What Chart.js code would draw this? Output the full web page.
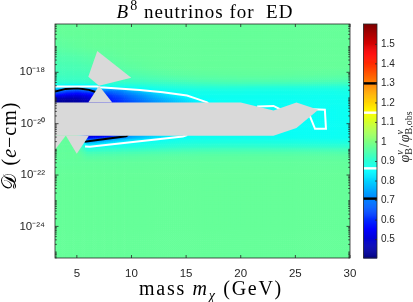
<!DOCTYPE html>
<html>
<head>
<meta charset="utf-8">
<script src="https://cdn.jsdelivr.net/npm/chart.js@4.4.1/dist/chart.umd.min.js"></script>
<style>
  html, body { margin: 0; padding: 0; background: #fff; }
</style>
</head>
<body>
<canvas id="chart" width="413" height="302"></canvas>
<script>
// grid of the ratio field (mass in GeV, log10 of D in e-cm)
var massGrid = [3, 4, 5, 6, 7, 8, 9, 10, 12, 14, 16, 18, 20, 22, 24, 26, 28, 30];
var logDGrid = [-16.0, -16.5, -17.0, -17.4, -17.8, -18.1, -18.3, -18.45, -18.6, -18.7, -18.8, -18.9, -19.0, -19.1, -19.2,
  -19.35, -19.5, -19.8, -20.1, -20.35, -20.5, -20.6, -20.7, -20.8, -20.9, -21.0, -21.1, -21.25, -21.5, -22.0, -23.0, -24.0, -25.0, -25.5];
var _ = null; // hidden under the grey band
var ratioRows = [
  [0.975, 0.975, 0.975, 0.975, 0.975, 0.975, 0.975, 0.975, 0.975, 0.975, 0.975, 0.975, 0.975, 0.975, 0.975, 0.975, 0.975, 0.975],
  [0.975, 0.975, 0.975, 0.975, 0.975, 0.975, 0.975, 0.975, 0.975, 0.975, 0.975, 0.975, 0.975, 0.975, 0.975, 0.975, 0.975, 0.975],
  [0.965, 0.968, 0.971, 0.974, 0.975, 0.975, 0.975, 0.975, 0.975, 0.975, 0.975, 0.975, 0.975, 0.975, 0.975, 0.975, 0.975, 0.975],
  [0.950, 0.952, 0.955, 0.959, 0.964, 0.968, 0.972, 0.974, 0.975, 0.975, 0.975, 0.975, 0.975, 0.975, 0.975, 0.975, 0.975, 0.975],
  [0.940, 0.941, 0.943, 0.946, 0.951, 0.957, 0.962, 0.966, 0.971, 0.974, 0.975, 0.975, 0.975, 0.975, 0.975, 0.975, 0.975, 0.975],
  [0.932, 0.933, 0.934, 0.935, 0.937, 0.941, 0.946, 0.950, 0.958, 0.964, 0.967, 0.969, 0.970, 0.970, 0.969, 0.968, 0.967, 0.966],
  [0.922, 0.922, 0.923, 0.924, 0.926, 0.928, 0.930, 0.933, 0.939, 0.945, 0.951, 0.954, 0.956, 0.956, 0.955, 0.953, 0.951, 0.949],
  [0.900, 0.900, 0.900, 0.900, 0.902, 0.905, 0.907, 0.910, 0.915, 0.921, 0.928, 0.932, 0.934, 0.933, 0.931, 0.929, 0.927, 0.925],
  [0.830, 0.760, 0.740, 0.780, 0.820, 0.862, 0.868, 0.872, 0.885, 0.893, 0.898, 0.900, 0.898, 0.895, 0.893, 0.892, 0.892, 0.894],
  [0.760, 0.680, 0.660, 0.700, 0.740, 0.700, 0.720, 0.780, 0.868, 0.878, 0.884, 0.886, 0.886, 0.884, 0.883, 0.882, 0.882, 0.885],
  [0.650, 0.600, 0.580, 0.600, 0.640, 0.660, 0.690, 0.730, 0.800, 0.868, 0.878, 0.879, 0.879, 0.878, 0.877, 0.877, 0.877, 0.880],
  [0.560, 0.530, 0.520, 0.540, 0.580, 0.620, 0.660, 0.700, 0.770, 0.840, 0.872, 0.874, 0.874, 0.873, 0.873, 0.873, 0.874, 0.877],
  [0.480, 0.470, 0.470, 0.500, 0.550, 0.600, 0.630, 0.680, 0.750, 0.810, 0.868, 0.871, 0.871, 0.871, 0.871, 0.871, 0.872, 0.875],
  [0.450, 0.440, 0.450, 0.480, 0.530, 0.580, 0.620, 0.660, 0.730, 0.790, 0.845, 0.867, 0.869, 0.868, 0.868, 0.869, 0.870, 0.873],
  [0.430, 0.430, 0.440, 0.470, 0.520, 0.570, 0.610, 0.650, 0.720, 0.780, 0.835, 0.866, 0.867, 0.866, 0.865, 0.867, 0.869, 0.872],
  [_, _, _, _, _, _, _, _, _, _, _, _, 0.866, 0.862, 0.866, 0.866, 0.867, 0.871],
  [_, _, _, _, _, _, _, _, _, _, _, _, _, 0.862, 0.862, 0.864, 0.866, 0.871],
  [_, _, _, _, _, _, _, _, _, _, _, _, _, _, 0.862, 0.862, 0.865, 0.870],
  [_, _, _, _, _, _, _, _, _, _, _, _, _, _, 0.862, 0.862, 0.865, 0.870],
  [_, _, _, _, _, _, _, _, _, _, _, _, _, _, 0.866, 0.866, 0.867, 0.871],
  [0.972, 0.972, 0.972, 0.500, 0.520, 0.560, 0.660, 0.740, 0.800, 0.850, 0.868, 0.870, 0.870, 0.868, 0.866, 0.867, 0.868, 0.872],
  [0.972, 0.972, 0.972, 0.620, 0.680, 0.730, 0.760, 0.790, 0.840, 0.872, 0.876, 0.878, 0.878, 0.876, 0.874, 0.873, 0.873, 0.875],
  [0.972, 0.972, 0.972, 0.740, 0.770, 0.800, 0.830, 0.855, 0.876, 0.884, 0.888, 0.889, 0.889, 0.888, 0.887, 0.886, 0.886, 0.888],
  [0.972, 0.972, 0.972, 0.810, 0.830, 0.862, 0.870, 0.878, 0.888, 0.895, 0.899, 0.900, 0.900, 0.899, 0.898, 0.897, 0.897, 0.899],
  [0.972, 0.972, 0.972, 0.862, 0.872, 0.882, 0.888, 0.893, 0.902, 0.908, 0.912, 0.914, 0.914, 0.913, 0.912, 0.912, 0.912, 0.913],
  [0.972, 0.972, 0.972, 0.900, 0.908, 0.912, 0.915, 0.918, 0.922, 0.928, 0.932, 0.934, 0.934, 0.933, 0.932, 0.932, 0.932, 0.933],
  [0.972, 0.972, 0.972, 0.930, 0.932, 0.934, 0.936, 0.938, 0.942, 0.945, 0.947, 0.948, 0.948, 0.948, 0.947, 0.947, 0.947, 0.948],
  [0.973, 0.973, 0.973, 0.955, 0.956, 0.957, 0.958, 0.959, 0.961, 0.962, 0.963, 0.964, 0.964, 0.964, 0.963, 0.963, 0.963, 0.963],
  [0.971, 0.971, 0.971, 0.971, 0.971, 0.971, 0.971, 0.971, 0.971, 0.971, 0.971, 0.971, 0.971, 0.971, 0.971, 0.971, 0.971, 0.971],
  [0.975, 0.975, 0.975, 0.975, 0.975, 0.975, 0.975, 0.975, 0.975, 0.975, 0.975, 0.975, 0.975, 0.975, 0.975, 0.975, 0.975, 0.975],
  [0.975, 0.975, 0.975, 0.975, 0.975, 0.975, 0.975, 0.975, 0.975, 0.975, 0.975, 0.975, 0.975, 0.975, 0.975, 0.975, 0.975, 0.975],
  [0.975, 0.975, 0.975, 0.975, 0.975, 0.975, 0.975, 0.975, 0.975, 0.975, 0.975, 0.975, 0.975, 0.975, 0.975, 0.975, 0.975, 0.975],
  [0.975, 0.975, 0.975, 0.975, 0.975, 0.975, 0.975, 0.975, 0.975, 0.975, 0.975, 0.975, 0.975, 0.975, 0.975, 0.975, 0.975, 0.975],
  [0.975, 0.975, 0.975, 0.975, 0.975, 0.975, 0.975, 0.975, 0.975, 0.975, 0.975, 0.975, 0.975, 0.975, 0.975, 0.975, 0.975, 0.975]
];

// contour lines, [mass, log10 D]
var upperWhite = [[3, -18.557], [6.84, -18.557], [7.12, -18.58], [10.78, -18.685], [12.88, -18.775], [15.08, -18.906], [16.0, -19.035], [16.91, -19.17], [17.1, -19.25]];
var rightWhite = [[21.5, -19.33], [23.0, -19.31], [23.9, -19.5], [24.0, -19.56]];
var blobWhite = [[25.9, -19.43], [27.7, -19.46], [27.8, -20.2], [26.8, -20.2], [26.34, -19.72], [26.0, -19.6]];
var lowerWhite = [[5.75, -20.885], [6.2, -20.9], [14.7, -20.5], [15.1, -20.44]];
var upperBlack = [[3, -18.75], [3.98, -18.646], [5.04, -18.62], [6.11, -18.685], [6.57, -18.75], [7.0, -18.82]];
var lowerBlack = [[5.7, -20.7], [9.5, -20.49], [9.7, -20.44]];

// grey (no data) areas
var greyBand = [[3, -19.18], [20, -19.18], [23, -19.49], [25.1, -19.18], [27.1, -19.46], [25.1, -20.17], [23, -20.47], [3, -20.47]];
var greyKite = [[6.87, -17.17], [6.05, -18.17], [7.03, -18.52], [9.98, -18.21]];
var greyWedge = [[7.03, -18.52], [6.05, -19.18], [8.24, -19.18]];
var greyLeftTri = [[3, -20.47], [3, -21.02], [3.98, -20.47]];
var greyMidTri = [[4.0, -20.47], [4.99, -21.17], [6.1, -20.47]];

var massTicks = [5, 10, 15, 20, 25, 30];
var logDTicks = [-24, -22, -20, -18];
var logDRange = [-25.23, -16.12];
var colorTicks = [0.5, 0.6, 0.7, 0.8, 0.9, 1, 1.1, 1.2, 1.3, 1.4, 1.5];
var colorRange = [0.406, 1.604];
var colorLevels = [[0.71, "#000000"], [0.865, "#ffffff"], [1.15, "#ffffff"], [1.3, "#000000"]];

var axisColor = "#262626";
var sansFont = "\"Liberation Sans\", Arial, sans-serif";
var serif = "\"Liberation Serif\", \"Times New Roman\", serif";

function jet(v) {
  var f = Math.min(1, Math.max(0, (v - colorRange[0]) / (colorRange[1] - colorRange[0])));
  var c = function(t) { return Math.round(255 * Math.min(1, Math.max(0, 1.5 - Math.abs(4 * f - t)))); };
  return "rgb(" + c(3) + "," + c(2) + "," + c(1) + ")";
}

function cellValue(i, j) {
  if (ratioRows[i][j] !== null) return ratioRows[i][j];
  for (var d = 1; d < ratioRows.length; d++) {
    if (i - d >= 0 && ratioRows[i - d][j] !== null) return ratioRows[i - d][j];
    if (i + d < ratioRows.length && ratioRows[i + d][j] !== null) return ratioRows[i + d][j];
  }
  return 0.975;
}

var supMap = { "-": "\u207b", "0": "\u2070", "1": "\u00b9", "2": "\u00b2", "3": "\u00b3", "4": "\u2074", "5": "\u2075", "6": "\u2076", "7": "\u2077", "8": "\u2078", "9": "\u2079" };
function powerLabel(e) {
  return "10" + String(e).split("").map(function(ch) { return supMap[ch]; }).join("");
}

function toPoints(list) {
  return list.map(function(p) { return { x: p[0], y: Math.pow(10, p[1]) }; });
}

function richText(ctx, parts, x, y, spacing) {
  ctx.letterSpacing = (spacing || 0) + "px";
  var widths = parts.map(function(p) {
    ctx.font = p.font;
    var w = ctx.measureText(p.text).width;
    if (p.sub) { ctx.font = p.subFont; w = Math.max(w, ctx.measureText(p.sub).width); }
    return w + (p.gap || 0);
  });
  var total = widths.reduce(function(a, b) { return a + b; }, 0);
  var cx = x - total / 2;
  parts.forEach(function(p, k) {
    ctx.font = p.font;
    ctx.fillText(p.text, cx, y + (p.dy || 0));
    if (p.sub) { ctx.font = p.subFont; ctx.fillText(p.sub, cx, y + p.subDy); }
    cx += widths[k];
  });
  ctx.letterSpacing = "0px";
}

var heatmapPlugin = {
  id: "heatmap",
  beforeDatasetsDraw: function(chart) {
    var ctx = chart.ctx, a = chart.chartArea, xs = chart.scales.x, ys = chart.scales.y;
    ctx.save();
    ctx.beginPath();
    ctx.rect(a.left, a.top, a.width, a.height);
    ctx.clip();
    for (var i = 0; i < logDGrid.length - 1; i++) {
      var py0 = ys.getPixelForValue(Math.pow(10, logDGrid[i]));
      var py1 = ys.getPixelForValue(Math.pow(10, logDGrid[i + 1]));
      for (var j = 0; j < massGrid.length - 1; j++) {
        var px0 = xs.getPixelForValue(massGrid[j]);
        var px1 = xs.getPixelForValue(massGrid[j + 1]);
        var v00 = cellValue(i, j), v01 = cellValue(i, j + 1), v10 = cellValue(i + 1, j), v11 = cellValue(i + 1, j + 1);
        var nx = Math.max(1, Math.ceil((px1 - px0) / 2)), ny = Math.max(1, Math.ceil((py1 - py0) / 2));
        var dx = (px1 - px0) / nx, dy = (py1 - py0) / ny;
        for (var sy = 0; sy < ny; sy++) {
          var w = (sy + 0.5) / ny;
          for (var sx = 0; sx < nx; sx++) {
            var u = (sx + 0.5) / nx;
            var v = (v00 * (1 - u) + v01 * u) * (1 - w) + (v10 * (1 - u) + v11 * u) * w;
            ctx.fillStyle = jet(v);
            ctx.fillRect(px0 + sx * dx, py0 + sy * dy, dx + 0.6, dy + 0.6);
          }
        }
      }
    }
    ctx.restore();
  }
};

var greyPlugin = {
  id: "grey",
  afterDatasetsDraw: function(chart) {
    var ctx = chart.ctx, a = chart.chartArea, xs = chart.scales.x, ys = chart.scales.y;
    ctx.save();
    ctx.beginPath();
    ctx.rect(a.left, a.top, a.width, a.height);
    ctx.clip();
    ctx.fillStyle = "#d9d9d9";
    [greyBand, greyKite, greyWedge, greyLeftTri, greyMidTri].forEach(function(poly) {
      ctx.beginPath();
      poly.forEach(function(p, k) {
        var px = xs.getPixelForValue(p[0]), py = ys.getPixelForValue(Math.pow(10, p[1]));
        if (k === 0) ctx.moveTo(px, py); else ctx.lineTo(px, py);
      });
      ctx.closePath();
      ctx.fill();
    });
    ctx.restore();
  }
};

var framePlugin = {
  id: "frame",
  afterDraw: function(chart) {
    var ctx = chart.ctx, a = chart.chartArea, xs = chart.scales.x, ys = chart.scales.y;
    ctx.save();
    ctx.strokeStyle = axisColor;
    ctx.lineWidth = 0.8;
    ctx.beginPath();
    massTicks.forEach(function(m) {
      var px = xs.getPixelForValue(m);
      ctx.moveTo(px, a.bottom); ctx.lineTo(px, a.bottom - 3);
      ctx.moveTo(px, a.top); ctx.lineTo(px, a.top + 3);
    });
    for (var e = -26; e <= -16; e++) {
      for (var n = 1; n <= 9; n++) {
        var val = n * Math.pow(10, e);
        var lg = Math.log10(val);
        if (lg < logDRange[0] || lg > logDRange[1]) continue;
        var len = (n === 1 && e % 2 === 0) ? 3.5 : 1.8;
        var py = ys.getPixelForValue(val);
        ctx.moveTo(a.left, py); ctx.lineTo(a.left + len, py);
        ctx.moveTo(a.right, py); ctx.lineTo(a.right - len, py);
      }
    }
    ctx.stroke();
    ctx.strokeRect(a.left, a.top, a.width, a.height);
    ctx.restore();
  }
};

var colorbarPlugin = {
  id: "colorbar",
  afterDraw: function(chart) {
    var ctx = chart.ctx, cs = chart.scales.c;
    var left = 363.5, width = 13.5;
    var top = cs.getPixelForValue(colorRange[1]), bottom = cs.getPixelForValue(colorRange[0]);
    ctx.save();
    var steps = 240;
    for (var k = 0; k < steps; k++) {
      var v0 = colorRange[0] + (colorRange[1] - colorRange[0]) * k / steps;
      var v1 = colorRange[0] + (colorRange[1] - colorRange[0]) * (k + 1) / steps;
      var y0 = cs.getPixelForValue(v1), y1 = cs.getPixelForValue(v0);
      ctx.fillStyle = jet((v0 + v1) / 2);
      ctx.fillRect(left, y0, width, y1 - y0 + 0.5);
    }
    colorLevels.forEach(function(lv) {
      var py = cs.getPixelForValue(lv[0]);
      ctx.fillStyle = lv[1];
      ctx.fillRect(left, py - 1.2, width, 2.4);
    });
    ctx.strokeStyle = axisColor;
    ctx.lineWidth = 0.8;
    ctx.beginPath();
    colorTicks.forEach(function(t) {
      var py = cs.getPixelForValue(t);
      ctx.moveTo(left + width, py); ctx.lineTo(left + width - 2, py);
    });
    ctx.stroke();
    ctx.strokeRect(left, top, width, bottom - top);
    ctx.restore();
  }
};

var textPlugin = {
  id: "texts",
  afterDraw: function(chart) {
    var ctx = chart.ctx;
    ctx.save();
    ctx.fillStyle = "#000000";
    ctx.textAlign = "left";
    ctx.textBaseline = "alphabetic";
    richText(ctx, [
      { text: "B", font: "italic 19px " + serif, gap: 1 },
      { text: "8", font: "14px " + serif, dy: -7.5 },
      { text: " neutrinos for  ED", font: "19px " + serif }
    ], 205, 17.5, 1);
    richText(ctx, [
      { text: "mass ", font: "20px " + serif },
      { text: "m", font: "italic 20px " + serif },
      { text: "\u03c7", font: "italic 14px " + serif, dy: 4.5 },
      { text: " (GeV)", font: "20px " + serif }
    ], 211, 295, 1.7);
    ctx.save();
    ctx.translate(16, 146);
    ctx.rotate(-Math.PI / 2);
    richText(ctx, [
      { text: "\ud835\udc9f", font: "20px \"DejaVu Serif\", " + serif, gap: 2 },
      { text: " (", font: "20px " + serif },
      { text: "e", font: "italic 20px " + serif },
      { text: "\u2212cm)", font: "20px " + serif }
    ], 0, 0, 1);
    ctx.restore();
    ctx.save();
    ctx.fillStyle = axisColor;
    ctx.translate(409, 137);
    ctx.rotate(-Math.PI / 2);
    richText(ctx, [
      { text: "\u03c6", font: "italic 14px " + serif },
      { text: "\u03bd", font: "italic 10px " + serif, dy: -6, sub: "B", subFont: "10px " + serif, subDy: 3, gap: 1 },
      { text: "/", font: "14px " + serif, gap: 1 },
      { text: "\u03c6", font: "italic 14px " + serif },
      { text: "\u03bd", font: "italic 10px " + serif, dy: -6, sub: "B,obs", subFont: "10px " + serif, subDy: 3 }
    ], 0, 0);
    ctx.restore();
    ctx.restore();
  }
};

// keep the tick label padding from pushing the plot box down
function fixedFit(size, horizontal) {
  return function(scale) {
    if (horizontal) scale.height = size; else scale.width = size;
    scale.paddingTop = 0;
    scale.paddingBottom = 0;
    scale.paddingLeft = 0;
    scale.paddingRight = 0;
  };
}

var contourSets = [
  [upperWhite, "#ffffff"], [rightWhite, "#ffffff"], [blobWhite, "#ffffff"], [lowerWhite, "#ffffff"],
  [upperBlack, "#000000"], [lowerBlack, "#000000"]
];

new Chart(document.getElementById("chart"), {
  type: "scatter",
  data: {
    datasets: contourSets.map(function(set) {
      return {
        data: toPoints(set[0]),
        showLine: true,
        borderColor: set[1],
        borderWidth: 2,
        pointRadius: 0,
        fill: false,
        tension: 0
      };
    })
  },
  options: {
    responsive: false,
    animation: false,
    events: [],
    layout: { padding: { top: 24, left: 0, right: 0, bottom: 0 } },
    plugins: { legend: { display: false }, tooltip: { enabled: false } },
    scales: {
      x: {
        type: "linear",
        min: 3,
        max: 30,
        afterBuildTicks: function(scale) { scale.ticks = massTicks.map(function(v) { return { value: v }; }); },
        afterFit: fixedFit(44, true),
        grid: { display: false, drawTicks: false },
        border: { display: false },
        ticks: { font: { family: sansFont, size: 11.5 }, color: axisColor, padding: 9, maxRotation: 0, autoSkip: false }
      },
      y: {
        type: "logarithmic",
        min: Math.pow(10, logDRange[0]),
        max: Math.pow(10, logDRange[1]),
        afterBuildTicks: function(scale) { scale.ticks = logDTicks.map(function(e) { return { value: Math.pow(10, e) }; }); },
        afterFit: fixedFit(55, false),
        grid: { display: false, drawTicks: false },
        border: { display: false },
        ticks: {
          font: { family: sansFont, size: 11.5 },
          color: axisColor,
          padding: 10,
          autoSkip: false,
          callback: function(value) { return powerLabel(Math.round(Math.log10(value))); }
        }
      },
      c: {
        type: "linear",
        position: "right",
        min: colorRange[0],
        max: colorRange[1],
        afterBuildTicks: function(scale) { scale.ticks = colorTicks.map(function(v) { return { value: v }; }); },
        afterFit: fixedFit(63, false),
        grid: { display: false, drawTicks: false },
        border: { display: false },
        ticks: {
          font: { family: sansFont, size: 10 },
          color: axisColor,
          padding: 31,
          autoSkip: false,
          callback: function(value) { return value === 1 ? "1" : value.toFixed(1); }
        }
      }
    }
  },
  plugins: [heatmapPlugin, greyPlugin, framePlugin, colorbarPlugin, textPlugin]
});
</script>
</body>
</html>
